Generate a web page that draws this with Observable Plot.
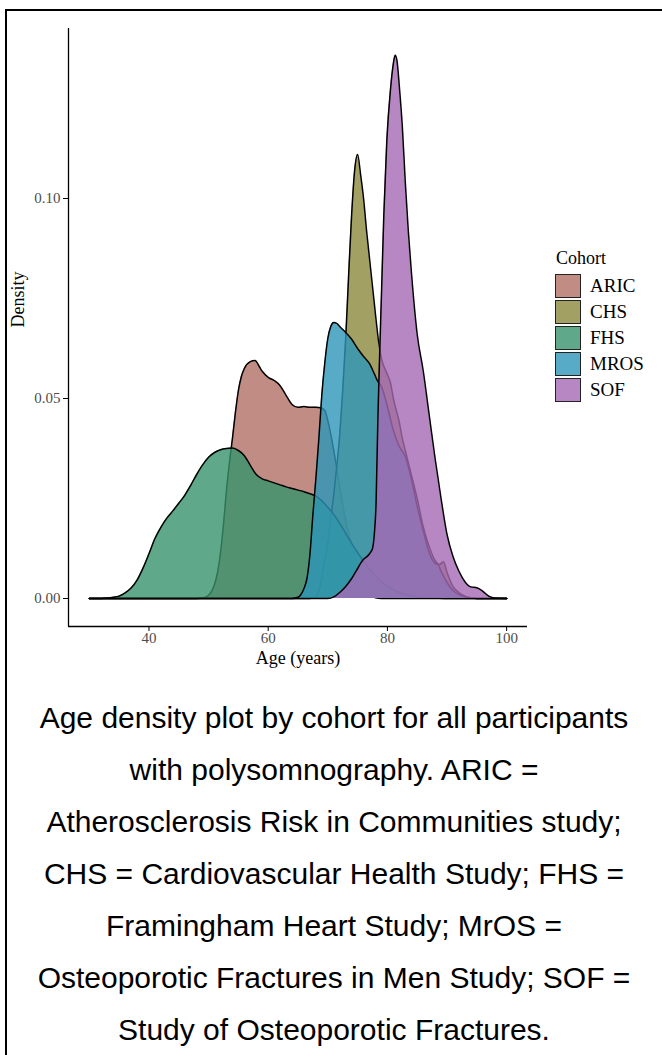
<!DOCTYPE html>
<html>
<head>
<meta charset="utf-8">
<script src="https://cdn.jsdelivr.net/npm/d3@7"></script>
<script src="https://cdn.jsdelivr.net/npm/@observablehq/plot@0.6"></script>
<style>
  html, body { margin: 0; padding: 0; background: #fff; }
  body { width: 662px; height: 1055px; overflow: hidden; position: relative; font-family: "Liberation Serif", serif; }
  #frame { position: absolute; left: 5px; top: 9px; width: 720px; height: 1100px; border-left: 2px solid #000; border-top: 2px solid #000; }
  #chart { position: absolute; left: 0; top: 0; }
  #legend { position: absolute; left: 555px; top: 247px; font-family: "Liberation Serif", serif; color: #000; }
  #legend .title { font-size: 18px; height: 26px; line-height: 22px; margin-left: 1px; }
  #legend .item { position: relative; height: 26px; }
  #legend .key { position: absolute; left: 0; top: 1px; width: 24px; height: 22px; border: 1.5px solid #222; box-sizing: content-box; }
  #legend .lab { position: absolute; left: 35px; top: 0; line-height: 26px; font-size: 19px; white-space: nowrap; }
  #caption { position: absolute; left: 6px; width: 656px; top: 692px; text-align: center; font-family: "Liberation Sans", Arial, sans-serif; font-size: 30px; line-height: 52px; color: #000; }
</style>
</head>
<body>
<div id="frame"></div>
<div id="chart"></div>
<div id="legend"></div>
<div id="caption"></div>
<script>
const cohorts = ["ARIC", "CHS", "FHS", "MROS", "SOF"];
const cohortColors = ["#B06F65", "#8C883C", "#37936D", "#2D96B9", "#A569B4"];
const fillAlpha = 0.8;
const xTicks = [40, 60, 80, 100];
const yTicks = [0, 0.05, 0.10];
const xTitle = "Age (years)";
const yTitle = "Density";
const legendTitle = "Cohort";
const captionLines = [
  "Age density plot by cohort for all participants",
  "with polysomnography. ARIC =",
  "Atherosclerosis Risk in Communities study;",
  "CHS = Cardiovascular Health Study; FHS =",
  "Framingham Heart Study; MrOS =",
  "Osteoporotic Fractures in Men Study; SOF =",
  "Study of Osteoporotic Fractures."
];

const aricAge = [30,48,49,50,50.5,51,51.5,52,52.5,53,53.5,54,54.5,55,55.5,56,57,57.8,58.5,59,60,61,62,63,64,65,66,67,68,68.8,69.5,70,70.5,71,71.5,72,72.5,73,74,75,76,77,78,79,100];
const aricDensity = [0,0,0.0001,0.0008,0.0018,0.0035,0.0065,0.0115,0.0185,0.027,0.034,0.04,0.0465,0.052,0.0555,0.0575,0.0592,0.0595,0.058,0.0568,0.0553,0.0545,0.0532,0.0508,0.0485,0.0478,0.048,0.0478,0.0478,0.0477,0.047,0.0445,0.041,0.037,0.0325,0.028,0.0235,0.0195,0.0135,0.0085,0.0035,0.001,0.0002,0,0];

const chsAge = [30,67,68,68.7,69.3,70,70.5,71,71.5,72,72.5,73,73.5,74,74.5,75,75.5,76,76.5,77,77.5,78,78.5,79,80,80.5,81,82,82.5,83,84,85,86,87,88,88.7,89.4,90,91,92,93,94,95,100];
const chsDensity = [0,0,0.0005,0.003,0.008,0.014,0.02,0.026,0.033,0.041,0.052,0.065,0.081,0.096,0.107,0.111,0.106,0.1,0.092,0.085,0.078,0.071,0.0645,0.06,0.056,0.054,0.05,0.044,0.04,0.037,0.031,0.025,0.018,0.013,0.0095,0.0085,0.0092,0.0065,0.003,0.0015,0.0006,0.0002,0,0];

const fhsAge = [30,32,33,34,35,36,37,38,39,40,41,42,43,44,45,46,47,48,49,50,51,52,53,54,55,56,57,58,59,60,61,62,63,64,65,66,67,68,69,70,71,72,73,74,75,76,77,78,79,80,81,82,83,84,85,86,88,90,100];
const fhsDensity = [0,0,0.0001,0.0003,0.0006,0.0014,0.0026,0.0046,0.0076,0.0112,0.015,0.0178,0.0201,0.0219,0.0238,0.0258,0.0283,0.031,0.0334,0.0353,0.0365,0.0372,0.0375,0.0376,0.037,0.0357,0.0333,0.031,0.0299,0.0294,0.0289,0.0284,0.0279,0.0275,0.0271,0.0267,0.0262,0.0256,0.0244,0.0228,0.021,0.0188,0.0163,0.0138,0.0115,0.0093,0.0073,0.0056,0.0042,0.0031,0.0022,0.0015,0.001,0.0007,0.0004,0.0003,0.0001,0,0];

const mrosAge = [30,64,65,65.5,66,66.5,67,67.5,68,68.5,69,69.5,70,70.5,71,71.5,72,73,74,75,76,77,77.5,78,78.3,79,80,81,82,83,84,85,86,87,88,88.5,89,90,91,92,93,94,95,100];
const mrosDensity = [0,0,0.0003,0.001,0.0025,0.005,0.011,0.021,0.03,0.04,0.051,0.059,0.065,0.068,0.069,0.0688,0.068,0.0665,0.0648,0.0625,0.0605,0.0587,0.0572,0.0555,0.0545,0.053,0.048,0.042,0.038,0.0355,0.03,0.023,0.017,0.0115,0.0088,0.0085,0.0068,0.004,0.002,0.001,0.0004,0.0001,0,0];

const sofAge = [30,70,71,72,73,74,75,75.5,76,76.5,77,77.5,77.8,78.1,78.4,78.7,79,79.4,79.9,80.5,81,81.3,81.6,82,82.5,83,83.5,84,85,86,87,88,89,90,91,92,93,94,95,96,97,98,100];
const sofDensity = [0,0,0.0004,0.0015,0.003,0.005,0.0075,0.0088,0.0098,0.0104,0.0112,0.0125,0.016,0.024,0.045,0.061,0.076,0.096,0.1145,0.127,0.1338,0.1358,0.1345,0.128,0.118,0.104,0.092,0.082,0.066,0.057,0.046,0.035,0.025,0.016,0.0105,0.0068,0.0042,0.0029,0.0027,0.0018,0.0006,0.0001,0];

const series = [
  ["ARIC", aricAge, aricDensity],
  ["CHS", chsAge, chsDensity],
  ["FHS", fhsAge, fhsDensity],
  ["MROS", mrosAge, mrosDensity],
  ["SOF", sofAge, sofDensity]
].map(([cohort, ages, dens]) => ages.map((age, i) => ({cohort, age, density: dens[i]})));

const font = "Liberation Serif";
const densityMarks = series.flatMap(rows => [
  Plot.areaY(rows, {x: "age", y: "density", fill: "cohort", fillOpacity: fillAlpha, curve: "monotone-x"}),
  Plot.lineY(rows, {x: "age", y: "density", stroke: "#000", strokeWidth: 1.5, curve: "monotone-x"})
]);

const chart = Plot.plot({
  width: 662,
  height: 690,
  marginLeft: 68,
  marginRight: 135,
  marginTop: 28,
  marginBottom: 64,
  style: {fontFamily: font, background: "transparent", overflow: "visible"},
  x: {domain: [26.5, 103.5]},
  y: {domain: [-0.007, 0.1425]},
  color: {domain: cohorts, range: cohortColors},
  marks: [
    ...densityMarks,
    Plot.ruleX([26.5], {stroke: "#000", strokeWidth: 1.3}),
    Plot.ruleY([-0.007], {stroke: "#000", strokeWidth: 1.3}),
    Plot.axisX({ticks: xTicks, tickSize: 5, tickPadding: 1, fontSize: 15, fill: "#4d4d4d", stroke: "#000", label: null, fontFamily: font}),
    Plot.axisY({ticks: yTicks, tickSize: 5, tickPadding: 3, fontSize: 15, fill: "#4d4d4d", stroke: "#000", label: null, tickFormat: d3.format(".2f"), fontFamily: font}),
    Plot.text([xTitle], {text: d => d, frameAnchor: "bottom", dy: 37, fontSize: 18, fill: "#000", fontFamily: font}),
    Plot.text([yTitle], {text: d => d, frameAnchor: "left", dx: -50, rotate: -90, fontSize: 18, fill: "#000", fontFamily: font})
  ]
});
document.getElementById("chart").appendChild(chart);

// legend
const legend = document.getElementById("legend");
const t = document.createElement("div");
t.className = "title";
t.textContent = legendTitle;
legend.appendChild(t);
const colorScale = chart.scale("color");
cohorts.forEach(c => {
  const item = document.createElement("div");
  item.className = "item";
  const key = document.createElement("div");
  key.className = "key";
  const swatch = d3.color(colorScale.apply(c));
  swatch.opacity = fillAlpha;
  key.style.background = swatch.formatRgb();
  const lab = document.createElement("div");
  lab.className = "lab";
  lab.textContent = c;
  item.appendChild(key);
  item.appendChild(lab);
  legend.appendChild(item);
});

// caption
const cap = document.getElementById("caption");
captionLines.forEach((line, i) => {
  if (i) cap.appendChild(document.createElement("br"));
  cap.appendChild(document.createTextNode(line));
});
</script>
</body>
</html>
